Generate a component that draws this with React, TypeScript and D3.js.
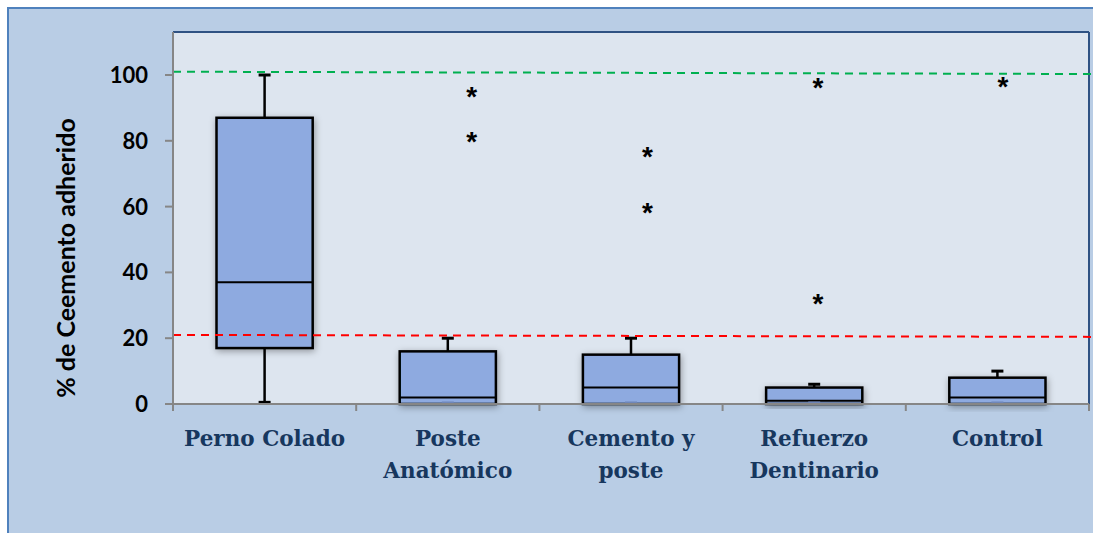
import React from 'react';
import * as d3 from 'd3';

// groups on the x axis (label lines)
const groups = ['Perno Colado', 'Poste Anatómico', 'Cemento y poste', 'Refuerzo Dentinario', 'Control'];
const groupLines = [['Perno Colado'], ['Poste', 'Anatómico'], ['Cemento y', 'poste'], ['Refuerzo', 'Dentinario'], ['Control']];

// box statistics (% cement)
const whiskerLow = [0.5, 0, 0, 0, 0];
const q1 = [17, 0, 0, 0, 0];
const median = [37, 2, 5, 1, 2];
const q3 = [87, 16, 15, 5, 8];
const whiskerHigh = [100, 20, 20, 6, 10];

// outliers (asterisks)
const outlierGroup = [1, 1, 2, 2, 3, 3, 4];
const outlierValue = [94.5, 81, 76.3, 59.3, 97.4, 31.6, 97.7];

const yTicks = [0, 20, 40, 60, 80, 100];

// reference lines (start, end) value
const greenLine = [101, 100.3];
const redLine = [21, 20.4];

const App = () => {
    const W = 1093;
    const H = 533;
    const left = 173, right = 1089, top = 32, bottom = 404;

    const x = d3.scaleBand().domain(groups).range([left, right]).padding(0);
    const y = d3.scaleLinear().domain([0, 100]).range([bottom, 75]);
    const bw = x.bandwidth();
    const boxW = bw * 0.525;
    // small horizontal nudge of the asterisks, as in the original
    const starShift = [0, 0.13, 0.09, 0.02, 0.03];

    return (
        <svg width={W} height={H} style={{ position: 'absolute', left: 0, top: 0 }}>
            <defs>
                <filter id="shadow" x="-30%" y="-30%" width="160%" height="160%">
                    <feDropShadow dx="1" dy="2" stdDeviation="3.5" floodColor="#000" floodOpacity="0.35" />
                </filter>
            </defs>
            {/* outer frame */}
            <rect x={8} y={8} width={1200} height={600} fill="#b9cde5" stroke="#4f81bd" strokeWidth={2} />
            {/* plot area */}
            <rect x={left} y={top} width={right - left} height={bottom - top} fill="#dde5ef" />
            <line x1={left} x2={right} y1={top} y2={top} stroke="#2f5283" strokeWidth={2} />
            <line x1={right} x2={right} y1={top} y2={bottom} stroke="#2f5283" strokeWidth={2} />

            {/* boxes */}
            {groups.map((g, i) => {
                const cx = x(g) + bw / 2;
                const x0 = cx - boxW / 2;
                return (
                    <g key={g}>
                        <line x1={cx} x2={cx} y1={y(q3[i])} y2={y(whiskerHigh[i])} stroke="#000" strokeWidth={2.5} />
                        <line x1={cx - 6} x2={cx + 6} y1={y(whiskerHigh[i])} y2={y(whiskerHigh[i])} stroke="#000" strokeWidth={3} />
                        {q1[i] > whiskerLow[i] && (
                            <>
                                <line x1={cx} x2={cx} y1={y(q1[i])} y2={y(whiskerLow[i])} stroke="#000" strokeWidth={2.5} />
                                <line x1={cx - 6} x2={cx + 6} y1={y(whiskerLow[i])} y2={y(whiskerLow[i])} stroke="#000" strokeWidth={3} />
                            </>
                        )}
                        <rect x={x0} y={y(q3[i])} width={boxW} height={y(q1[i]) - y(q3[i])}
                            fill="#8eaae0" stroke="#000" strokeWidth={2.5} filter="url(#shadow)" />
                        <line x1={x0} x2={x0 + boxW} y1={y(median[i])} y2={y(median[i])} stroke="#000" strokeWidth={2} />
                        {q1[i] === whiskerLow[i] && (
                            <line x1={cx - 6} x2={cx + 6} y1={y(0) - 1.5} y2={y(0) - 1.5} stroke="#6f86b8" strokeWidth={2} />
                        )}
                    </g>
                );
            })}

            {/* outliers */}
            {outlierValue.map((v, k) => {
                const gi = outlierGroup[k];
                const cx = x(groups[gi]) + bw / 2 + starShift[gi] * bw;
                return (
                    <text key={k} x={cx} y={y(v) + 13} textAnchor="middle" fontFamily="Liberation Sans, Arial"
                        fontWeight="bold" fontSize={28} fill="#000">*</text>
                );
            })}

            {/* reference lines */}
            <line x1={left} x2={right + 4} y1={y(greenLine[0])} y2={y(greenLine[1])} stroke="#00b050" strokeWidth={2} strokeDasharray="8,6" />
            <line x1={left} x2={right + 4} y1={y(redLine[0])} y2={y(redLine[1])} stroke="#ff0000" strokeWidth={2} strokeDasharray="8,6" />

            {/* axes */}
            <line x1={left} x2={left} y1={top} y2={bottom} stroke="#868686" strokeWidth={2} />
            <line x1={left - 8} x2={right} y1={bottom} y2={bottom} stroke="#868686" strokeWidth={2} />
            {yTicks.map(t => (
                <g key={t}>
                    <line x1={left - 8} x2={left} y1={y(t)} y2={y(t)} stroke="#868686" strokeWidth={2} />
                    <text x={148} y={y(t)} dy="0.36em" textAnchor="end" fontFamily="Lato, Open Sans, sans-serif"
                        fontWeight="bold" fontSize={22} fill="#000">{t}</text>
                </g>
            ))}
            {[...groups.map(g => x(g)), right].map((px, k) => (
                <line key={k} x1={px} x2={px} y1={bottom} y2={bottom + 7} stroke="#868686" strokeWidth={2} />
            ))}

            {/* category labels */}
            {groups.map((g, i) => (
                <text key={g} textAnchor="middle" fontFamily="DejaVu Serif, serif" fontWeight="bold"
                    fontSize={21.5} fill="#17375e">
                    {groupLines[i].map((ln, j) => (
                        <tspan key={j} x={x(g) + bw / 2} y={446 + j * 32}>{ln}</tspan>
                    ))}
                </text>
            ))}

            {/* y axis title */}
            <text transform={`translate(75, ${258}) rotate(-90)`} textAnchor="middle"
                fontFamily="Lato, Open Sans, sans-serif" fontWeight="bold" fontSize={25} fill="#000">
                % de Ceemento adherido
            </text>
        </svg>
    );
};

export default App;
